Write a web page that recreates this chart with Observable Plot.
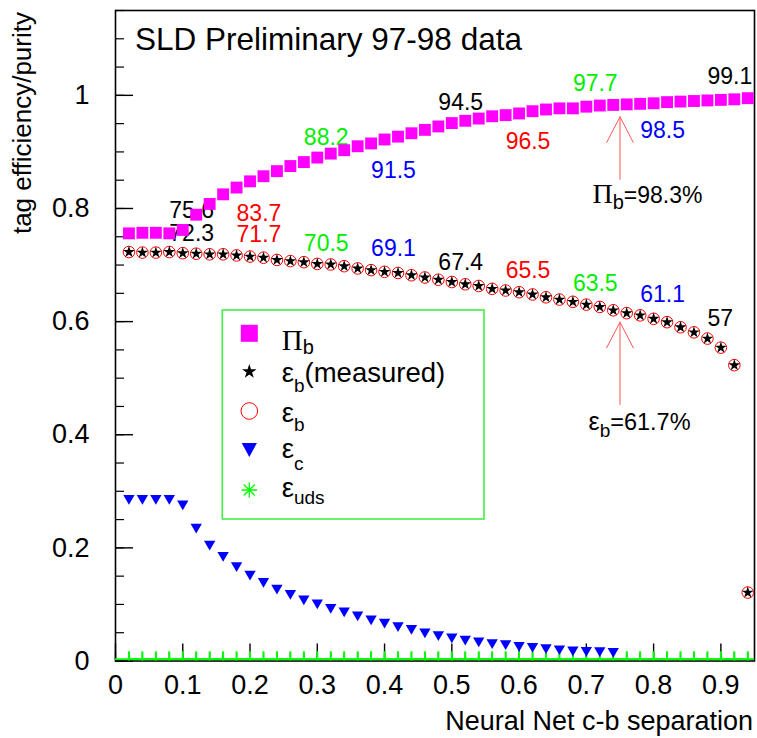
<!DOCTYPE html>
<html><head><meta charset="utf-8">
<script src="https://cdn.jsdelivr.net/npm/d3@7"></script>
<script src="https://cdn.jsdelivr.net/npm/@observablehq/plot@0.6"></script>
<style>
html,body{margin:0;padding:0;background:#fff;}
#chart{position:relative;width:757px;height:738px;}
</style></head><body><div id="chart"></div>
<script>
// ---- data ----
const cuts = [0.02,0.04,0.06,0.08,0.10,0.12,0.14,0.16,0.18,0.20,0.22,0.24,0.26,0.28,0.30,0.32,0.34,0.36,0.38,0.40,0.42,0.44,0.46,0.48,0.50,0.52,0.54,0.56,0.58,0.60,0.62,0.64,0.66,0.68,0.70,0.72,0.74,0.76,0.78,0.80,0.82,0.84,0.86,0.88,0.90,0.92,0.94];
const purity = [0.756,0.757,0.757,0.756,0.762,0.789,0.808,0.825,0.837,0.848,
  0.857,0.866,0.875,0.882,0.890,0.897,0.903,0.910,0.915,0.922,
  0.927,0.933,0.939,0.945,0.951,0.955,0.959,0.963,0.965,0.968,
  0.972,0.975,0.977,0.977,0.980,0.982,0.983,0.984,0.985,0.986,
  0.988,0.989,0.990,0.991,0.992,0.993,0.995];
const effMeasured = [0.723,0.722,0.722,0.723,0.721,0.720,0.719,0.719,0.717,0.715,
  0.713,0.709,0.707,0.705,0.702,0.701,0.698,0.694,0.691,0.688,
  0.686,0.682,0.678,0.674,0.670,0.666,0.663,0.658,0.655,0.652,
  0.648,0.643,0.639,0.635,0.630,0.626,0.620,0.615,0.611,0.605,
  0.599,0.590,0.581,0.570,0.554,0.523,0.121];
const effB = [0.723,0.722,0.722,0.723,0.721,0.720,0.719,0.719,0.717,0.715,
  0.713,0.709,0.707,0.705,0.702,0.701,0.698,0.694,0.691,0.688,
  0.686,0.682,0.678,0.674,0.670,0.666,0.663,0.658,0.655,0.652,
  0.648,0.643,0.639,0.635,0.630,0.626,0.620,0.615,0.611,0.605,
  0.599,0.590,0.581,0.570,0.554,0.523,0.121];
const effC = [0.285,0.285,0.285,0.285,0.275,0.234,0.204,0.184,0.166,0.151,
  0.138,0.126,0.117,0.107,0.100,0.092,0.086,0.079,0.072,0.066,
  0.060,0.055,0.049,0.044,0.040,0.036,0.033,0.030,0.028,0.025,
  0.023,0.021,0.019,0.017,0.016,0.0155,0.0145];
const effUDS = [0.003,0.003,0.003,0.003,0.003,0.003,0.003,0.003,0.003,0.003,
  0.003,0.003,0.003,0.003,0.003,0.003,0.003,0.003,0.003,0.003,
  0.003,0.003,0.003,0.003,0.003,0.003,0.003,0.003,0.003,0.003,
  0.003,0.003,0.003,0.003,0.003,0.003,0.003,0.003,0.003,0.003,
  0.003,0.003,0.003,0.003,0.003,0.003,0.003];

// annotation labels
const labelCuts = [0.08,0.18,0.28,0.38,0.48,0.58,0.68,0.78,0.88];
const purityLabels = ["75.6","83.7","88.2","91.5","94.5","96.5","97.7","98.5","99.1"];
const purityLabelY = [0.797,0.791,0.926,0.867,0.988,0.918,1.021,0.938,1.033];
const effLabels = ["72.3","71.7","70.5","69.1","67.4","65.5","63.5","61.1","57"];
const effLabelY = [0.756,0.753,0.738,0.729,0.705,0.690,0.668,0.647,0.605];
const labelColors = ["black","#ff0000","#00ee00","#0000ff","black","#ff0000","#00ee00","#0000ff","black"];

const arrowCut = [0.75, 0.75];
const arrowFrom = [0.850, 0.452];
const arrowTo = [0.962, 0.599];
const notePurity = "98.3%";
const noteEff = "61.7%";
const noteY = [0.809, 0.4076];

const xMajor = [0,0.1,0.2,0.3,0.4,0.5,0.6,0.7,0.8,0.9];
const yMajor = [0,0.2,0.4,0.6,0.8,1];
const xMinor = d3.range(0, 0.951, 0.02);
const yMinor = d3.range(0, 1.151, 0.05);

// ---- build tables ----
const series = (ys) => ys.map((y, i) => ({x: cuts[i], y}));
const purityData = series(purity);
const measData = series(effMeasured);
const effBData = series(effB);
const effCData = series(effC);
const udsData = series(effUDS);
const pLab = labelCuts.map((x,i)=>({x, y: purityLabelY[i], t: purityLabels[i], c: labelColors[i]}));
const eLab = labelCuts.map((x,i)=>({x, y: effLabelY[i], t: effLabels[i], c: labelColors[i]}));
const arrows = arrowCut.map((x,i)=>({x, y1: arrowFrom[i], y2: arrowTo[i]}));

// ---- custom symbols ----
const triDown = {draw(ctx, size){ const r=Math.sqrt(size/Math.PI); const w=1.35*r, h=1.16*r;
  ctx.moveTo(-w,-h); ctx.lineTo(w,-h); ctx.lineTo(0,h); ctx.closePath(); }};
const udsMark = {draw(ctx){ ctx.moveTo(-14,0); ctx.lineTo(14,0); ctx.moveTo(0,-8); ctx.lineTo(0,8); }};
const chevron = {draw(ctx){ ctx.moveTo(-13.5,26); ctx.lineTo(0,0); ctx.lineTo(13.5,26); }};

const FW = 639, FH = 650.5;
const chart = Plot.plot({
  width: 757, height: 738,
  marginTop: 10, marginRight: 3, marginBottom: 77.5, marginLeft: 115,
  style: {fontFamily: "'Liberation Sans', Arial, sans-serif", color: "black", background: "white", overflow: "visible"},
  x: {domain: [0, 0.95]},
  y: {domain: [0, 1.15]},
  marks: [
    Plot.ruleX(xMinor, {x: d=>d, insetTop: FH-8, stroke: "black", strokeWidth: 1.2}),
    Plot.ruleX(xMajor, {x: d=>d, insetTop: FH-17, stroke: "black", strokeWidth: 1.4}),
    Plot.ruleY(yMinor, {y: d=>d, insetRight: FW-9, stroke: "black", strokeWidth: 1.2}),
    Plot.ruleY(yMajor, {y: d=>d, insetRight: FW-18, stroke: "black", strokeWidth: 1.4}),
    Plot.axisX(xMajor, {anchor: "bottom", tickSize: 0, tickPadding: 14, fontSize: 27, label: null, tickFormat: d=>String(d)}),
    Plot.axisY(yMajor, {anchor: "left", tickSize: 0, tickPadding: 26, fontSize: 27, label: null, tickFormat: d=>String(d)}),
    Plot.frame({stroke: "black", strokeWidth: 1.6}),
    Plot.dot(udsData, {x: "x", y: "y", symbol: udsMark, r: 5, fill: "none", stroke: "#00ff00", strokeWidth: 2, clip: true}),
    Plot.text(pLab, {x: "x", y: "y", text: "t", fill: "c", textAnchor: "start", fontSize: 23}),
    Plot.text(eLab, {x: "x", y: "y", text: "t", fill: "c", textAnchor: "start", fontSize: 23}),
    Plot.dot(purityData, {x: "x", y: "y", symbol: "square", r: 6.7, fill: "#ff00ff", stroke: "none"}),
    Plot.dot(effBData, {x: "x", y: "y", symbol: "circle", r: 5.8, fill: "white", stroke: "#ff0000", strokeWidth: 1}),
    Plot.dot(measData, {x: "x", y: "y", symbol: "star", r: 3.7, fill: "black", stroke: "none"}),
    Plot.dot(effCData, {x: "x", y: "y", symbol: triDown, r: 4.2, fill: "#0000ff", stroke: "none"}),
    Plot.ruleX(arrows, {x: "x", y1: "y1", y2: "y2", stroke: "#ff5555", strokeWidth: 1}),
    Plot.dot(arrows, {x: "x", y: "y2", symbol: chevron, r: 5, fill: "none", stroke: "#ff5555", strokeWidth: 1})
  ]
});
document.getElementById("chart").append(chart);

// ---- texts with sub-scripts, titles and legend ----
const svgNode = chart.tagName.toLowerCase() === "svg" ? chart : chart.querySelector("svg");
const svg = d3.select(svgNode);
const sx = chart.scale("x"), sy = chart.scale("y");
const SANS = "'Liberation Sans', Arial, sans-serif";
const SERIF = "'Liberation Serif', 'Times New Roman', serif";

function rich(g, x, y, segs) {
  const t = g.append("text").attr("x", x).attr("y", y).attr("fill", "black")
    .attr("text-anchor", "start").attr("font-family", SANS);
  let cur = 0;
  for (const s of segs) {
    const ts = t.append("tspan").text(s.t).attr("font-size", s.size);
    if (s.font) ts.attr("font-family", s.font);
    const sh = s.shift || 0;
    if (sh !== cur) ts.attr("dy", sh - cur);
    cur = sh;
  }
  return t;
}

const ann = svg.append("g").attr("text-anchor", "start");
ann.append("text").attr("x", 135).attr("y", 50).attr("text-anchor", "start").attr("font-family", SANS)
  .attr("font-size", 31.5).attr("fill", "black").text("SLD Preliminary 97-98 data");
ann.append("text").attr("x", 753).attr("y", 730).attr("text-anchor", "end").attr("font-family", SANS)
  .attr("font-size", 27).attr("fill", "black").text("Neural Net c-b separation");
ann.append("text").attr("transform", "translate(31,12) rotate(-90)").attr("text-anchor", "end")
  .attr("font-family", SANS).attr("font-size", 26).attr("fill", "black").text("tag efficiency/purity");

// arrow notes
rich(ann, sx.apply(arrowCut[0]) - 27, sy.apply(noteY[0]), [
  {t: "Π", size: 28, font: SERIF}, {t: "b", size: 20, shift: 6}, {t: "=" + notePurity, size: 23, shift: 0}]);
rich(ann, sx.apply(arrowCut[1]) - 31, sy.apply(noteY[1]), [
  {t: "ε", size: 25}, {t: "b", size: 19, shift: 7}, {t: "=" + noteEff, size: 23.5, shift: 0}]);

// legend
const lg = ann.append("g").attr("transform", "translate(222.3,310)");
lg.append("rect").attr("width", 261.7).attr("height", 209).attr("fill", "white")
  .attr("stroke", "#44ee44").attr("stroke-width", 1.6);
const symX = 27, txtX = 59.4;
const rowsY = [23.3, 61.7, 101, 140, 180];
const baseY = [40, 72, 112, 148, 187];
lg.append("rect").attr("x", symX-8.5).attr("y", rowsY[0]-8.5).attr("width", 17).attr("height", 17).attr("fill", "#ff00ff");
lg.append("path").attr("transform", `translate(${symX},${rowsY[1]})`)
  .attr("d", d3.symbol(d3.symbolStar, 7.6*7.6/0.8908)()).attr("fill", "black");
lg.append("circle").attr("cx", symX).attr("cy", rowsY[2]).attr("r", 8.3).attr("fill", "none").attr("stroke", "#ff0000").attr("stroke-width", 1);
lg.append("path").attr("d", `M${symX-7.6},${rowsY[3]-7}L${symX+7.6},${rowsY[3]-7}L${symX},${rowsY[3]+7}Z`).attr("fill", "#0000ff");
{
  const a = 7.8, b = a*0.7071;
  lg.append("path").attr("d",
    `M${symX-a},${rowsY[4]}L${symX+a},${rowsY[4]}M${symX},${rowsY[4]-a}L${symX},${rowsY[4]+a}` +
    `M${symX-b},${rowsY[4]-b}L${symX+b},${rowsY[4]+b}M${symX-b},${rowsY[4]+b}L${symX+b},${rowsY[4]-b}`)
    .attr("stroke", "#00ff00").attr("stroke-width", 1.3).attr("fill", "none");
}
rich(lg, txtX, baseY[0], [{t: "Π", size: 29, font: SERIF}, {t: "b", size: 20, shift: 4}]);
rich(lg, txtX, baseY[1], [{t: "ε", size: 27.5}, {t: "b", size: 19, shift: 10}, {t: "(measured)", size: 27.5, shift: 0}]);
rich(lg, txtX, baseY[2], [{t: "ε", size: 27.5}, {t: "b", size: 19, shift: 9}]);
rich(lg, txtX, baseY[3], [{t: "ε", size: 27.5}, {t: "c", size: 19, shift: 12}]);
rich(lg, txtX, baseY[4], [{t: "ε", size: 27.5}, {t: "uds", size: 19, shift: 7}]);
</script></body></html>
